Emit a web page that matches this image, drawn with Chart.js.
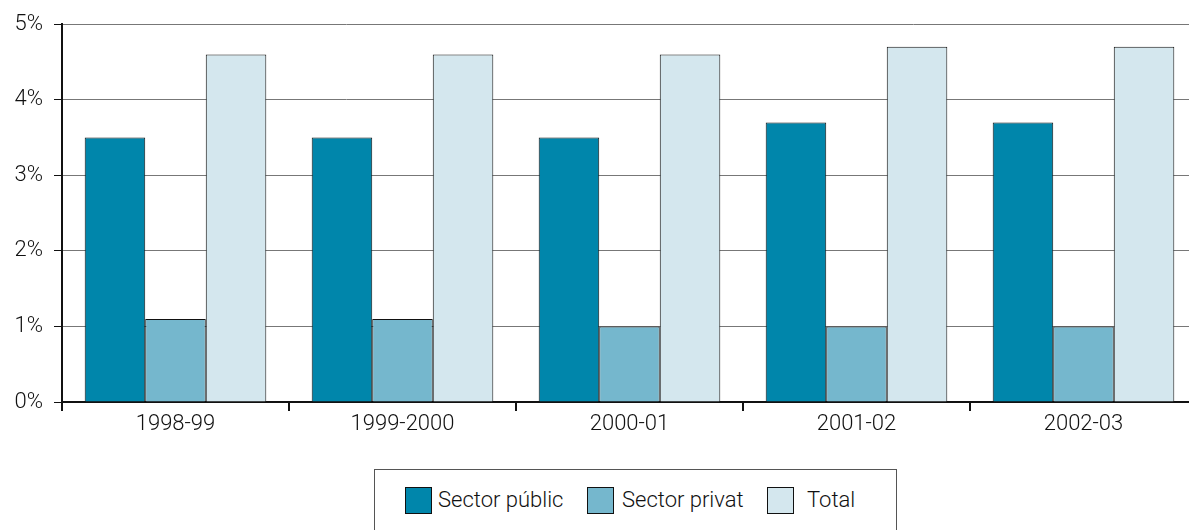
<!DOCTYPE html>
<html>
<head>
<meta charset="utf-8">
<script src="https://cdn.jsdelivr.net/npm/chart.js@4/dist/chart.umd.min.js"></script>
<style>
html,body{margin:0;padding:0;background:#fff;overflow:hidden;width:1189px;height:530px;}
#wrap{position:absolute;left:0;top:0;width:1197px;height:460px;}
#legend{position:absolute;left:374px;top:469px;width:523px;height:80px;border:1px solid #555;box-sizing:border-box;
  font-family:Roboto,"Liberation Sans",Arial,sans-serif;font-weight:300;font-size:22px;color:#111;}
.sw{position:absolute;top:17px;width:27px;height:27px;border:1px solid #111;box-sizing:border-box;}
.tx{position:absolute;top:16px;line-height:28px;white-space:nowrap;}
</style>
</head>
<body>
<div id="wrap"><canvas id="c" width="1197" height="460"></canvas></div>
<div id="legend"></div>
<script>
const categories = ["1998-99","1999-2000","2000-01","2001-02","2002-03"];
const sectorPublic = [3.5,3.5,3.5,3.7,3.7];
const sectorPrivat = [1.1,1.1,1.0,1.0,1.0];
const total = [4.6,4.6,4.6,4.7,4.7];
const seriesNames = ["Sector públic","Sector privat","Total"];
const seriesColors = ["#0086AB","#75B7CD","#D4E7EE"];
const yTicks = [0,1,2,3,4,5];

const font = {family:"Roboto, 'Liberation Sans', Arial, sans-serif", size:22, weight:300};
const data = {
  labels: categories,
  datasets: [sectorPublic, sectorPrivat, total].map((d,i)=>({
    label: seriesNames[i], data: d, backgroundColor: seriesColors[i],
    borderColor:"#111", borderWidth:1, categoryPercentage:0.8, barPercentage:1.0
  }))
};
new Chart(document.getElementById('c'), {
  type:'bar', data,
  options:{
    responsive:false, animation:false, devicePixelRatio:1,
    layout:{padding:{top:22,right:0,left:0,bottom:0}},
    plugins:{legend:{display:false}, tooltip:{enabled:false}},
    scales:{
      x:{
        offset:true,
        grid:{offset:true, drawOnChartArea:false, tickColor:"#111", tickLength:9, lineWidth:2},
        border:{color:"#111", width:2},
        ticks:{color:"#111", font, padding:0},
        afterFit(s){ s.height = 58; }
      },
      y:{
        min:0, max:5,
        afterBuildTicks(s){ s.ticks = yTicks.map(v=>({value:v})); },
        grid:{color:"#777", lineWidth:1, tickColor:"#111", tickLength:8},
        border:{color:"#111", width:2},
        ticks:{color:"#111", font, padding:11, callback:v=>v+"%"},
        afterFit(s){ s.width = 62; }
      }
    }
  }
});
const lg = document.getElementById('legend');
const swLefts = [30, 212, 392];
const txLefts = [63, 247, 432];
seriesNames.forEach((n,i)=>{
  const sw = document.createElement('div'); sw.className='sw'; sw.style.background=seriesColors[i]; sw.style.left=swLefts[i]+'px';
  const t = document.createElement('span'); t.className='tx'; t.textContent=n; t.style.left=txLefts[i]+'px';
  lg.appendChild(sw); lg.appendChild(t);
});
</script>
</body>
</html>
